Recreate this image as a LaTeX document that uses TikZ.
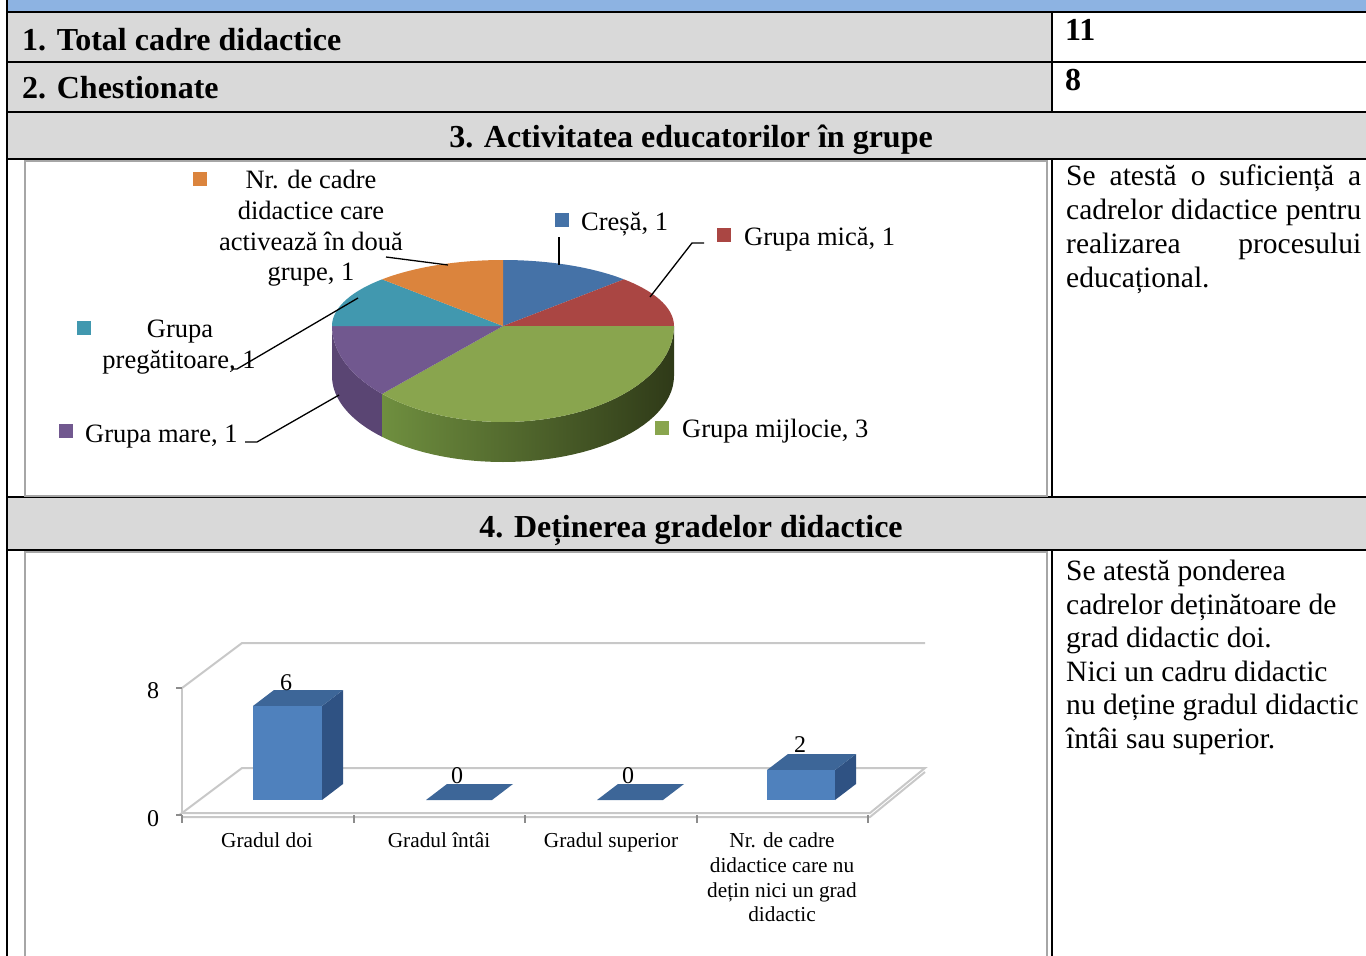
\documentclass[tikz,border=0pt]{standalone}
\usepackage{fontspec}
\setmainfont{Liberation Serif}
\definecolor{hdrgray}{HTML}{D9D9D9}
\definecolor{bandblue}{HTML}{8DB3E2}
\definecolor{pieblue}{HTML}{4572A7}
\definecolor{piered}{HTML}{AA4643}
\definecolor{piegreen}{HTML}{89A54E}
\definecolor{piepurple}{HTML}{71588F}
\definecolor{pieteal}{HTML}{4198AF}
\definecolor{pieorange}{HTML}{DB843D}
\definecolor{purpleside}{HTML}{5A4573}
\definecolor{greensideA}{HTML}{6F8F3F}
\definecolor{greensideB}{HTML}{3B4B20}
\definecolor{greensideC}{HTML}{2F3A18}
\definecolor{barfront}{HTML}{4F81BD}
\definecolor{bartop}{HTML}{3D6698}
\definecolor{barside}{HTML}{2F5283}
\definecolor{gridgray}{HTML}{C8C8C8}
\definecolor{tickgray}{HTML}{8C8C8C}
\begin{document}
\begin{tikzpicture}[x=1pt,y=-1pt,
  tblline/.style={line width=2pt, draw=black},
  chartframe/.style={line width=1.6pt, draw=black!35},
  hdr/.style={font=\fontsize{32}{38}\selectfont\bfseries, inner sep=0pt},
  pielbl/.style={font=\fontsize{26.5}{31}\selectfont, inner sep=0pt},
  body/.style={font=\fontsize{29.5}{34}\selectfont, inner sep=0pt, anchor=base west},
  catlbl/.style={font=\fontsize{21.3}{25}\selectfont, inner sep=0pt, anchor=base},
  numlbl/.style={font=\fontsize{24}{28}\selectfont, inner sep=0pt, anchor=base},
  leader/.style={line width=1.3pt, draw=black},
  gridline/.style={line width=2pt, draw=gridgray},
  tickline/.style={line width=1.2pt, draw=tickgray},
  legsq/.style={rectangle, minimum size=14pt, inner sep=0pt}]
\useasboundingbox (0,0) rectangle (1366,956);
% ---------- table background ----------
\fill[bandblue] (7,0) rectangle (1366,12);
\fill[hdrgray] (7,12) rectangle (1052,112);
\fill[hdrgray] (7,112) rectangle (1366,159);
\fill[hdrgray] (7,497) rectangle (1366,550);
% ---------- table lines ----------
\draw[tblline] (7,0) -- (7,956);
\foreach \yy in {12,62,112,159,497,550} \draw[tblline] (7,\yy) -- (1366,\yy);
\draw[tblline] (1052,12) -- (1052,112);
\draw[tblline] (1052,159) -- (1052,497);
\draw[tblline] (1052,550) -- (1052,956);
% chart frames
\draw[chartframe] (25,161) rectangle (1047,496);
\draw[chartframe] (25,552) rectangle (1047,975);
% ---------- header texts ----------
\node[hdr, anchor=base west] (t1) at (22,50) {1. Total cadre didactice};
\node[hdr, anchor=base west] (v1) at (1065,40) {11};
\node[hdr, anchor=base west] (t2) at (22,98) {2. Chestionate};
\node[hdr, anchor=base west] (v2) at (1065,90) {8};
\node[hdr, anchor=base] (t3) at (691,147) {3. Activitatea educatorilor în grupe};
\node[hdr, anchor=base] (t4) at (691,537) {4. Deținerea gradelor didactice};
% ---------- right texts ----------
\node[body] (r1a) at (1066,185) {\makebox[295pt][s]{Se atestă o suficiență a}};
\node[body] (r1b) at (1066,219) {\makebox[295pt][s]{cadrelor didactice pentru}};
\node[body] (r1c) at (1066,253) {\makebox[295pt][s]{realizarea procesului}};
\node[body] (r1d) at (1066,287) {educațional.};
\node[body] (r2a) at (1066,580) {Se atestă ponderea};
\node[body] (r2b) at (1066,614) {cadrelor deținătoare de};
\node[body] (r2c) at (1066,647) {grad didactic doi.};
\node[body] (r2d) at (1066,681) {Nici un cadru didactic};
\node[body] (r2e) at (1066,714) {nu deține gradul didactic};
\node[body] (r2f) at (1066,748) {întâi sau superior.};
% ---------- pie chart ----------
\def\cx{503}\def\cy{326}\def\rx{171}\def\ryb{66}\def\ryf{96}\def\dz{50}\def\ryz{86}
% sides
\fill[purpleside] plot[domain=180:225,samples=20] ({\cx+\rx*cos(\x)},{\cy-\ryf*sin(\x)})
  -- plot[domain=225:180,samples=20] ({\cx+\rx*cos(\x)},{\cy+\dz-\ryz*sin(\x)}) -- cycle;
\shade[left color=greensideA, middle color=greensideB, right color=greensideC]
  plot[domain=225:360,samples=40] ({\cx+\rx*cos(\x)},{\cy-\ryf*sin(\x)})
  -- plot[domain=360:225,samples=40] ({\cx+\rx*cos(\x)},{\cy+\dz-\ryz*sin(\x)}) -- cycle;
% top face
\fill[pieblue] (\cx,\cy) -- plot[domain=90:45,samples=20] ({\cx+\rx*cos(\x)},{\cy-\ryb*sin(\x)}) -- cycle;
\fill[piered] (\cx,\cy) -- plot[domain=45:0,samples=20] ({\cx+\rx*cos(\x)},{\cy-\ryb*sin(\x)}) -- cycle;
\fill[piegreen] (\cx,\cy) -- plot[domain=360:225,samples=40] ({\cx+\rx*cos(\x)},{\cy-\ryf*sin(\x)}) -- cycle;
\fill[piepurple] (\cx,\cy) -- plot[domain=225:180,samples=20] ({\cx+\rx*cos(\x)},{\cy-\ryf*sin(\x)}) -- cycle;
\fill[pieteal] (\cx,\cy) -- plot[domain=180:135,samples=20] ({\cx+\rx*cos(\x)},{\cy-\ryb*sin(\x)}) -- cycle;
\fill[pieorange] (\cx,\cy) -- plot[domain=135:90,samples=20] ({\cx+\rx*cos(\x)},{\cy-\ryb*sin(\x)}) -- cycle;
% legend squares and labels
\node[legsq, fill=pieorange] (sqO) at (200,179) {};
\node[pielbl, anchor=base] (lO1) at (311,188) {Nr. de cadre};
\node[pielbl, anchor=base] (lO2) at (311,219) {didactice care};
\node[pielbl, anchor=base] (lO3) at (311,250) {activează în două};
\node[pielbl, anchor=base] (lO4) at (311,280) {grupe, 1};
\node[legsq, fill=pieblue] (sqB) at (562,220) {};
\node[pielbl, anchor=base west] (lB) at (581,230) {Creșă, 1};
\node[legsq, fill=piered] (sqR) at (724,235) {};
\node[pielbl, anchor=base west] (lR) at (744,245) {Grupa mică, 1};
\node[legsq, fill=pieteal] (sqT) at (84,328) {};
\node[pielbl, anchor=base] (lT1) at (180,337) {Grupa};
\node[pielbl, anchor=base] (lT2) at (179,368) {pregătitoare, 1};
\node[legsq, fill=piepurple] (sqP) at (66,431) {};
\node[pielbl, anchor=base west] (lP) at (85,442) {Grupa mare, 1};
\node[legsq, fill=piegreen] (sqG) at (662,428) {};
\node[pielbl, anchor=base west] (lG) at (682,437) {Grupa mijlocie, 3};
% leader lines
\coordinate (oA) at (386,257); \coordinate (oB) at (448,265);
\coordinate (bA) at (559,237); \coordinate (bB) at (559,265);
\coordinate (rA) at (704,243); \coordinate (rK) at (692,243); \coordinate (rB) at (650,297);
\coordinate (tA) at (231,369); \coordinate (tK) at (237,369); \coordinate (tB) at (358,298);
\coordinate (pA) at (245,442); \coordinate (pK) at (257,442); \coordinate (pB) at (339,395);
\draw[leader] (oA) -- (oB);
\draw[leader] (bA) -- (bB);
\draw[leader] (rA) -- (rK) -- (rB);
\draw[leader] (tA) -- (tK) -- (tB);
\draw[leader] (pA) -- (pK) -- (pB);
% ---------- bar chart ----------
% walls and floor
\draw[gridline] (182,688) -- (242,643) -- (925,643);
\draw[gridline] (182,688) -- (182,813);
\draw[gridline] (182,813) -- (242,768) -- (925,768) -- (870,813) -- cycle;
\draw[gridline] (182,817) -- (870,817) -- (925,772);
% ticks
\draw[tickline] (176,688) -- (182,688);
\draw[tickline] (176,815) -- (182,815);
\foreach \xx in {182,354,525,697,868} \draw[tickline] (\xx,815) -- (\xx,823);
\node[numlbl] (ax8) at (153,698) {8};
\node[numlbl] (ax0) at (153,826) {0};
% bar 1
\fill[barside] (322,706) -- (343,690) -- (343,784) -- (322,800) -- cycle;
\fill[bartop] (253,706) -- (322,706) -- (343,690) -- (274,690) -- cycle;
\fill[barfront] (253,706) rectangle (322,800);
% bar 2 and 3 (zero)
\fill[bartop] (426,800) -- (492,800) -- (513,784) -- (447,784) -- cycle;
\fill[bartop] (597,800) -- (663,800) -- (684,784) -- (618,784) -- cycle;
% bar 4
\fill[barside] (835,770) -- (856,754) -- (856,784) -- (835,800) -- cycle;
\fill[bartop] (767,770) -- (835,770) -- (856,754) -- (788,754) -- cycle;
\fill[barfront] (767,770) rectangle (835,800);
% data labels
\node[numlbl] (d1) at (286,690) {6};
\node[numlbl] (d2) at (457,783) {0};
\node[numlbl] (d3) at (628,783) {0};
\node[numlbl] (d4) at (800,752) {2};
% category labels
\node[catlbl] (c1) at (267,847) {Gradul doi};
\node[catlbl] (c2) at (439,847) {Gradul întâi};
\node[catlbl] (c3) at (611,847) {Gradul superior};
\node[catlbl] (c4a) at (782,847) {Nr. de cadre};
\node[catlbl] (c4b) at (782,872) {didactice care nu};
\node[catlbl] (c4c) at (782,897) {dețin nici un grad};
\node[catlbl] (c4d) at (782,921) {didactic};
\end{tikzpicture}
\end{document}
